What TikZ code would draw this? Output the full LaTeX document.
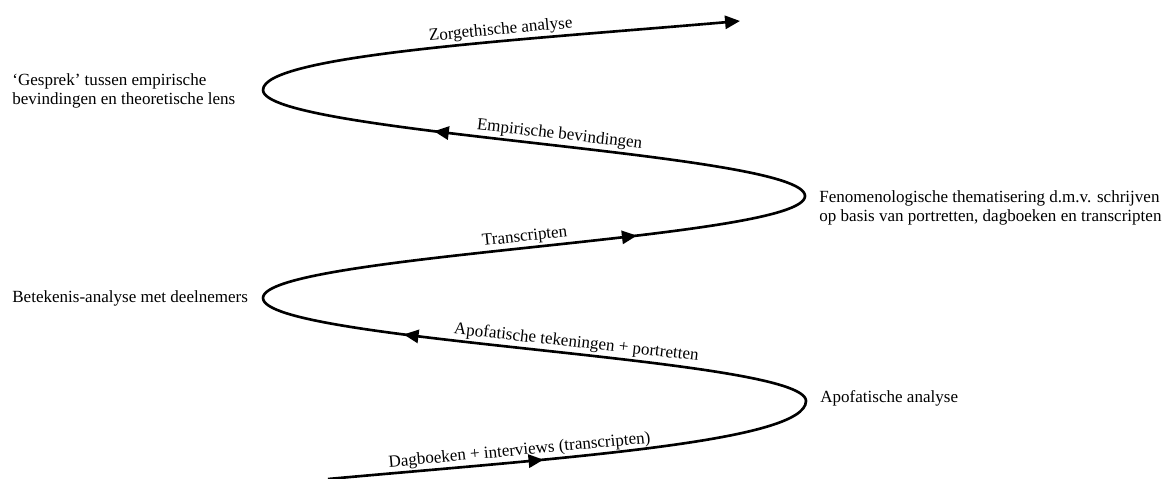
\documentclass[tikz,border=0pt]{standalone}
\usepackage{fontspec}
\setmainfont{Liberation Serif}
\usetikzlibrary{arrows.meta,decorations.markings}

\begin{document}
\begin{tikzpicture}[x=0.02cm,y=-0.02cm,
  lbl/.style={font=\fontsize{9.7}{10.4}\selectfont,inner sep=0pt,align=left,anchor=west},
  curvelbl/.style={font=\fontsize{9.7}{10.4}\selectfont,sloped,above,inner sep=1pt},
  spiral/.style={line width=1.5pt},
  midarrow/.style={postaction={decorate},decoration={markings,
    mark=at position #1 with {\arrow{Triangle[length=8.5pt,width=7.5pt]}}}}]
  \useasboundingbox (0,0) rectangle (1165,479);
  % turning points of the curve
  \coordinate (start) at (328,479);
  \coordinate (r1) at (806,401);
  \coordinate (l1) at (263,298);
  \coordinate (r2) at (805,196);
  \coordinate (l2) at (263,90);
  \coordinate (tip) at (740,21);
  % the curve, from bottom to top
  \draw[spiral,midarrow=0.44] (start) .. controls (560,458) and (806,442) .. (r1)
    node[curvelbl,pos=0.28] (dagboek) {Dagboeken + interviews (transcripten)};
  \draw[spiral,midarrow=0.735] (r1) .. controls (806,357) and (263,342) .. (l1)
    node[curvelbl,pos=0.45] (tekening) {Apofatische tekeningen + portretten};
  \draw[spiral,midarrow=0.685] (l1) .. controls (263,254) and (805,240) .. (r2)
    node[curvelbl,pos=0.49] (transcr) {Transcripten};
  \draw[spiral,midarrow=0.68] (r2) .. controls (805,152) and (263,134) .. (l2)
    node[curvelbl,pos=0.47] (empirie) {Empirische bevindingen};
  \draw[spiral,-{Triangle[length=8.5pt,width=7.5pt]}] (l2) .. controls (263,55) and (520,40) .. (tip)
    node[curvelbl,pos=0.64] (zorg) {Zorgethische analyse};
  % texts at the turns
  \node[lbl] (gesprek) at (12,91) {`Gesprek' tussen empirische\\bevindingen en theoretische lens};
  \node[lbl] (fenomeen) at (819,208) {Fenomenologische thematisering d.m.v. schrijven\\op basis van portretten, dagboeken en transcripten};
  \node[lbl] (betekenis) at (12,298) {Betekenis-analyse met deelnemers};
  \node[lbl] (apofatisch) at (820,398) {Apofatische analyse};
\end{tikzpicture}
\end{document}
